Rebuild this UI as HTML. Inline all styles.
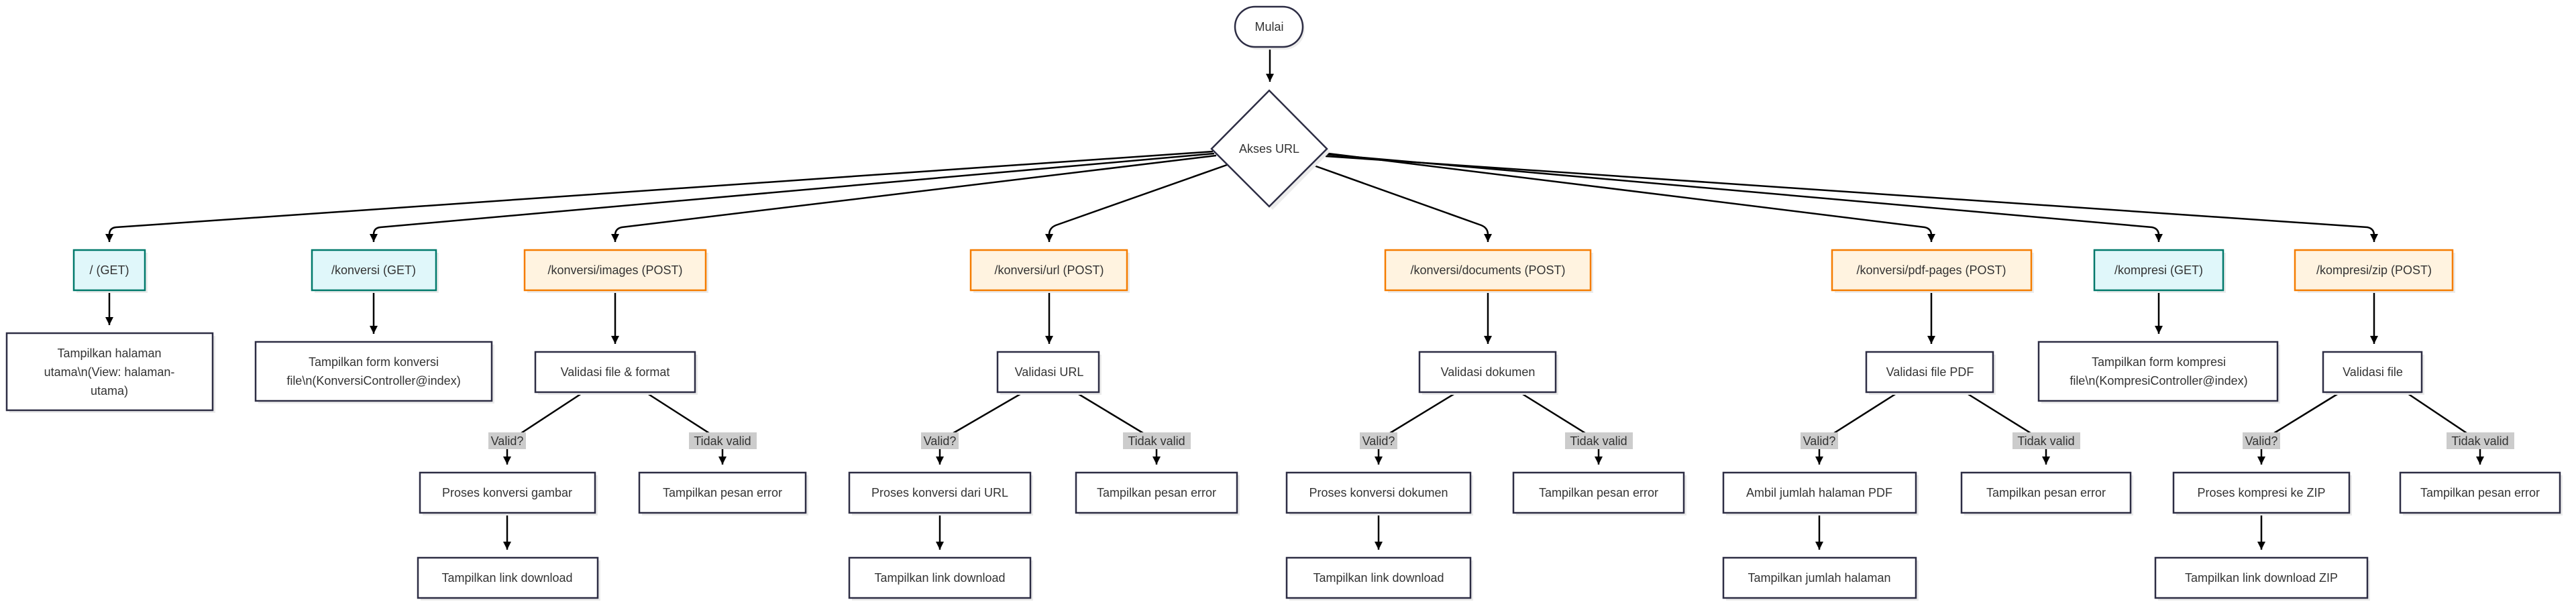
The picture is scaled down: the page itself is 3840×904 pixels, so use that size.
<!DOCTYPE html>
<html><head><meta charset="utf-8"><style>
html,body{margin:0;padding:0;background:#fff;}
svg{display:block;}
text{font-family:"Liberation Sans",sans-serif;font-size:18px;fill:#333;text-anchor:middle;dominant-baseline:central;}
.n{fill:#fff;stroke:#2d2d44;stroke-width:2.5;}
.g{fill:#e0f7fa;stroke:#00796b;stroke-width:2.5;}
.p{fill:#fff3e0;stroke:#f57c00;stroke-width:2.5;}
.sh{fill:#ececec;stroke:none;}
.e{fill:none;stroke:#000;stroke-width:2.5;}
.lb{fill:#cccccc;}
</style></head><body>
<svg width="3840" height="904" viewBox="0 0 3840 904" xmlns="http://www.w3.org/2000/svg">
<defs><marker id="a" viewBox="0 0 10 10" refX="9" refY="5" markerWidth="8" markerHeight="8" orient="auto-start-reverse" markerUnits="userSpaceOnUse"><path d="M0,0 L10,5 L0,10 z" fill="#000"/></marker>
<marker id="b" viewBox="0 0 10 10" refX="10" refY="5" markerWidth="12" markerHeight="12" orient="auto" markerUnits="userSpaceOnUse"><path d="M0,0 L10,5 L0,10 z" fill="#000"/></marker></defs>

<!-- edges from top -->
<path class="e" d="M1893,70 L1893,122" marker-end="url(#b)"/>
<path class="e" d="M1808,226 L173,339 Q163,340 163,350 L163,361" marker-end="url(#b)"/>
<path class="e" d="M1810,229 L567,339 Q557,340 557,350 L557,361" marker-end="url(#b)"/>
<path class="e" d="M1813,232 L927,339 Q917,341 917,351 L917,361" marker-end="url(#b)"/>
<path class="e" d="M1829,246 L1574,336 Q1564,340 1564,350 L1564,361" marker-end="url(#b)"/>
<path class="e" d="M1956,246 L2208,336 Q2218,340 2218,350 L2218,361" marker-end="url(#b)"/>
<path class="e" d="M1972,228 L2869,339 Q2879,341 2879,351 L2879,361" marker-end="url(#b)"/>
<path class="e" d="M1974,230 L3208,339 Q3218,341 3218,351 L3218,361" marker-end="url(#b)"/>
<path class="e" d="M1976,233 L3529,339 Q3539,341 3539,351 L3539,361" marker-end="url(#b)"/>

<!-- vertical edges route -> child -->
<path class="e" d="M163,433 L163,485" marker-end="url(#b)"/>
<path class="e" d="M557,433 L557,498" marker-end="url(#b)"/>
<path class="e" d="M3218,433 L3218,498" marker-end="url(#b)"/>
<path class="e" d="M917,433 L917,513" marker-end="url(#b)"/>
<path class="e" d="M1564,433 L1564,513" marker-end="url(#b)"/>
<path class="e" d="M2218,433 L2218,513" marker-end="url(#b)"/>
<path class="e" d="M2879,433 L2879,513" marker-end="url(#b)"/>
<path class="e" d="M3539,433 L3539,513" marker-end="url(#b)"/>

<!-- validasi -> labels -> boxes -->
<g>
<path class="e" d="M870,585 L777,646"/><path class="e" d="M962,585 L1057,646"/>
<path class="e" d="M756,670 L756,693" marker-end="url(#b)"/><path class="e" d="M1077,670 L1077,693" marker-end="url(#b)"/>
<path class="e" d="M756,765 L756,820" marker-end="url(#b)"/>

<path class="e" d="M1526,585 L1421,646"/><path class="e" d="M1603,585 L1704,646"/>
<path class="e" d="M1401,670 L1401,693" marker-end="url(#b)"/><path class="e" d="M1724,670 L1724,693" marker-end="url(#b)"/>
<path class="e" d="M1401,765 L1401,820" marker-end="url(#b)"/>

<path class="e" d="M2172,585 L2072,646"/><path class="e" d="M2265,585 L2363,646"/>
<path class="e" d="M2055,670 L2055,693" marker-end="url(#b)"/><path class="e" d="M2383,670 L2383,693" marker-end="url(#b)"/>
<path class="e" d="M2055,765 L2055,820" marker-end="url(#b)"/>

<path class="e" d="M2830,585 L2734,646"/><path class="e" d="M2929,585 L3027,646"/>
<path class="e" d="M2712,670 L2712,693" marker-end="url(#b)"/><path class="e" d="M3050,670 L3050,693" marker-end="url(#b)"/>
<path class="e" d="M2712,765 L2712,820" marker-end="url(#b)"/>

<path class="e" d="M3489,585 L3390,646"/><path class="e" d="M3586,585 L3677,646"/>
<path class="e" d="M3371,670 L3371,693" marker-end="url(#b)"/><path class="e" d="M3697,670 L3697,693" marker-end="url(#b)"/>
<path class="e" d="M3371,765 L3371,820" marker-end="url(#b)"/>
</g>

<!-- start / diamond -->
<rect class="sh" x="1845" y="14" width="100" height="60" rx="30"/>
<rect class="n" x="1841" y="10" width="101" height="60" rx="30"/>
<text x="1892" y="40">Mulai</text>
<polygon class="sh" points="1897,139 1983,226 1897,313 1811,226"/>
<polygon class="n" points="1892,135 1978,222 1892,308 1806,222"/>
<text x="1892" y="222">Akses URL</text>

<!-- route boxes -->
<g>
<rect class="sh" x="114" y="377" width="106" height="60"/><rect class="g" x="110" y="373" width="106" height="60"/><text x="163" y="403">/ (GET)</text>
<rect class="sh" x="469" y="377" width="185" height="60"/><rect class="g" x="465" y="373" width="185" height="60"/><text x="557" y="403">/konversi (GET)</text>
<rect class="sh" x="786" y="377" width="270" height="60"/><rect class="p" x="782" y="373" width="270" height="60"/><text x="917" y="403">/konversi/images (POST)</text>
<rect class="sh" x="1451" y="377" width="233" height="60"/><rect class="p" x="1447" y="373" width="233" height="60"/><text x="1564" y="403">/konversi/url (POST)</text>
<rect class="sh" x="2069" y="377" width="306" height="60"/><rect class="p" x="2065" y="373" width="306" height="60"/><text x="2218" y="403">/konversi/documents (POST)</text>
<rect class="sh" x="2735" y="377" width="297" height="60"/><rect class="p" x="2731" y="373" width="297" height="60"/><text x="2879" y="403">/konversi/pdf-pages (POST)</text>
<rect class="sh" x="3126" y="377" width="192" height="60"/><rect class="g" x="3122" y="373" width="192" height="60"/><text x="3218" y="403">/kompresi (GET)</text>
<rect class="sh" x="3425" y="377" width="235" height="60"/><rect class="p" x="3421" y="373" width="235" height="60"/><text x="3539" y="403">/kompresi/zip (POST)</text>
</g>

<!-- second row -->
<g>
<rect class="sh" x="14" y="501" width="307" height="115"/><rect class="n" x="10" y="497" width="307" height="115"/>
<text x="163" y="527">Tampilkan halaman</text><text x="163" y="555">utama\n(View: halaman-</text><text x="163" y="583">utama)</text>
<rect class="sh" x="385" y="514" width="352" height="88"/><rect class="n" x="381" y="510" width="352" height="88"/>
<text x="557" y="540">Tampilkan form konversi</text><text x="557" y="568">file\n(KonversiController@index)</text>
<rect class="sh" x="3043" y="514" width="356" height="88"/><rect class="n" x="3039" y="510" width="356" height="88"/>
<text x="3218" y="540">Tampilkan form kompresi</text><text x="3218" y="568">file\n(KompresiController@index)</text>

<rect class="sh" x="802" y="529" width="238" height="60"/><rect class="n" x="798" y="525" width="238" height="60"/><text x="917" y="555">Validasi file &amp; format</text>
<rect class="sh" x="1491" y="529" width="151" height="60"/><rect class="n" x="1487" y="525" width="151" height="60"/><text x="1564" y="555">Validasi URL</text>
<rect class="sh" x="2120" y="529" width="203" height="60"/><rect class="n" x="2116" y="525" width="203" height="60"/><text x="2218" y="555">Validasi dokumen</text>
<rect class="sh" x="2786" y="529" width="189" height="60"/><rect class="n" x="2782" y="525" width="189" height="60"/><text x="2877" y="555">Validasi file PDF</text>
<rect class="sh" x="3467" y="529" width="147" height="60"/><rect class="n" x="3463" y="525" width="147" height="60"/><text x="3537" y="555">Validasi file</text>
</g>

<!-- labels -->
<g>
<rect class="lb" x="728" y="645" width="56" height="25"/><text x="756" y="658">Valid?</text>
<rect class="lb" x="1027" y="645" width="101" height="25"/><text x="1077" y="658">Tidak valid</text>
<rect class="lb" x="1373" y="645" width="56" height="25"/><text x="1401" y="658">Valid?</text>
<rect class="lb" x="1674" y="645" width="101" height="25"/><text x="1724" y="658">Tidak valid</text>
<rect class="lb" x="2027" y="645" width="56" height="25"/><text x="2055" y="658">Valid?</text>
<rect class="lb" x="2333" y="645" width="101" height="25"/><text x="2383" y="658">Tidak valid</text>
<rect class="lb" x="2684" y="645" width="56" height="25"/><text x="2712" y="658">Valid?</text>
<rect class="lb" x="3000" y="645" width="101" height="25"/><text x="3050" y="658">Tidak valid</text>
<rect class="lb" x="3343" y="645" width="56" height="25"/><text x="3371" y="658">Valid?</text>
<rect class="lb" x="3647" y="645" width="101" height="25"/><text x="3697" y="658">Tidak valid</text>
</g>

<!-- third row -->
<g>
<rect class="sh" x="630" y="709" width="261" height="60"/><rect class="n" x="626" y="705" width="261" height="60"/><text x="756" y="735">Proses konversi gambar</text>
<rect class="sh" x="957" y="709" width="248" height="60"/><rect class="n" x="953" y="705" width="248" height="60"/><text x="1077" y="735">Tampilkan pesan error</text>
<rect class="sh" x="1270" y="709" width="270" height="60"/><rect class="n" x="1266" y="705" width="270" height="60"/><text x="1401" y="735">Proses konversi dari URL</text>
<rect class="sh" x="1608" y="709" width="240" height="60"/><rect class="n" x="1604" y="705" width="240" height="60"/><text x="1724" y="735">Tampilkan pesan error</text>
<rect class="sh" x="1922" y="709" width="274" height="60"/><rect class="n" x="1918" y="705" width="274" height="60"/><text x="2055" y="735">Proses konversi dokumen</text>
<rect class="sh" x="2260" y="709" width="254" height="60"/><rect class="n" x="2256" y="705" width="254" height="60"/><text x="2383" y="735">Tampilkan pesan error</text>
<rect class="sh" x="2573" y="709" width="287" height="60"/><rect class="n" x="2569" y="705" width="287" height="60"/><text x="2712" y="735">Ambil jumlah halaman PDF</text>
<rect class="sh" x="2928" y="709" width="252" height="60"/><rect class="n" x="2924" y="705" width="252" height="60"/><text x="3050" y="735">Tampilkan pesan error</text>
<rect class="sh" x="3244" y="709" width="262" height="60"/><rect class="n" x="3240" y="705" width="262" height="60"/><text x="3371" y="735">Proses kompresi ke ZIP</text>
<rect class="sh" x="3582" y="709" width="238" height="60"/><rect class="n" x="3578" y="705" width="238" height="60"/><text x="3697" y="735">Tampilkan pesan error</text>
</g>

<!-- fourth row -->
<g>
<rect class="sh" x="627" y="836" width="268" height="60"/><rect class="n" x="623" y="832" width="268" height="60"/><text x="756" y="862">Tampilkan link download</text>
<rect class="sh" x="1270" y="836" width="270" height="60"/><rect class="n" x="1266" y="832" width="270" height="60"/><text x="1401" y="862">Tampilkan link download</text>
<rect class="sh" x="1922" y="836" width="274" height="60"/><rect class="n" x="1918" y="832" width="274" height="60"/><text x="2055" y="862">Tampilkan link download</text>
<rect class="sh" x="2573" y="836" width="287" height="60"/><rect class="n" x="2569" y="832" width="287" height="60"/><text x="2712" y="862">Tampilkan jumlah halaman</text>
<rect class="sh" x="3217" y="836" width="316" height="60"/><rect class="n" x="3213" y="832" width="316" height="60"/><text x="3371" y="862">Tampilkan link download ZIP</text>
</g>
</svg>
</body></html>
